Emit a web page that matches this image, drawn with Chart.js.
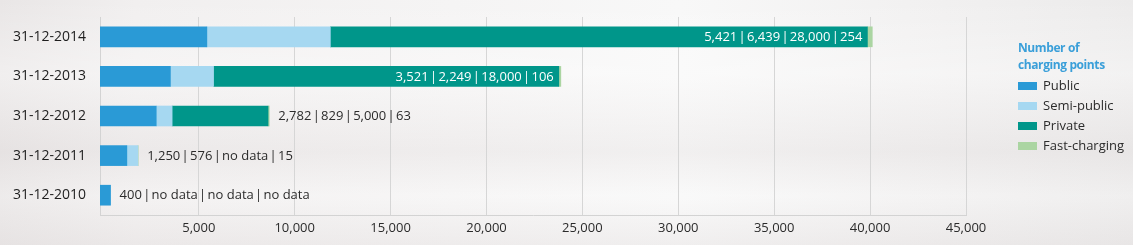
<!DOCTYPE html>
<html>
<head>
<meta charset="utf-8">
<script src="https://cdn.jsdelivr.net/npm/chart.js@4.4.1/dist/chart.umd.min.js"></script>
<style>
  html, body { margin: 0; padding: 0; }
  body {
    width: 1133px; height: 245px; overflow: hidden;
    background:
      linear-gradient(180deg, rgba(255,255,255,0) 0%, rgba(255,255,255,0.35) 30%, rgba(220,214,214,0.25) 62%, rgba(255,255,255,0.2) 80%, rgba(225,220,220,0.35) 100%),
      linear-gradient(90deg, #e9e6e6 0%, #f1efef 12%, #f5f4f4 40%, #f8f8f8 60%, #f2f1f1 80%, #ecebeb 100%);
  }
  #wrap { position: absolute; left: 0; top: 0; width: 1133px; height: 245px; }
</style>
</head>
<body>
<div id="wrap"><canvas id="c" width="1133" height="245"></canvas></div>
<script>
// ---- data ----
const categories = ['31-12-2014', '31-12-2013', '31-12-2012', '31-12-2011', '31-12-2010'];
const seriesNames = ['Public', 'Semi-public', 'Private', 'Fast-charging'];
const publicPoints = [5421, 3521, 2782, 1250, 400];
const semiPublicPoints = [6439, 2249, 829, 576, null];
const privatePoints = [28000, 18000, 5000, null, null];
const fastChargingPoints = [254, 106, 63, 15, null];
const xTickValues = [5000, 10000, 15000, 20000, 25000, 30000, 35000, 40000, 45000];
const legendTitle = ['Number of', 'charging points'];
const noDataText = 'no data';

const seriesColors = ['#2a9ad6', '#a6d8f1', '#00968a', '#abd5a2'];
const FONT = '"Open Sans", "DejaVu Sans", sans-serif';

const allSeries = [publicPoints, semiPublicPoints, privatePoints, fastChargingPoints];
const fmt = v => (v === null || v === undefined) ? noDataText : v.toLocaleString('en-US');
const SEP = '\u200A|\u200A';

const valueLabels = {
  id: 'valueLabels',
  afterDatasetsDraw(chart) {
    const ctx = chart.ctx;
    ctx.save();
    ctx.font = '13px ' + FONT;
    ctx.textBaseline = 'middle';
    categories.forEach((cat, i) => {
      const text = allSeries.map(s => fmt(s[i])).join(SEP);
      const tw = ctx.measureText(text).width;
      let end = chart.scales.x.getPixelForValue(0);
      let y = 0;
      chart.data.datasets.forEach((ds, di) => {
        const el = chart.getDatasetMeta(di).data[i];
        if (el && ds.data[i] !== null) { end = Math.max(end, el.x); }
        if (el) y = el.y;
      });
      const privEl = chart.getDatasetMeta(2).data[i];
      const privW = (privatePoints[i] !== null && privEl) ? (privEl.x - privEl.base) : 0;
      if (privW > tw + 14) {
        ctx.fillStyle = '#ffffff';
        ctx.textAlign = 'right';
        ctx.fillText(text, privEl.x - 5, y + 0.5);
      } else {
        ctx.fillStyle = '#2b2b2b';
        ctx.textAlign = 'left';
        ctx.fillText(text, end + 9, y + 0.5);
      }
    });
    ctx.restore();
  }
};

const sideLegend = {
  id: 'sideLegend',
  afterDraw(chart) {
    const ctx = chart.ctx;
    const x0 = chart.chartArea.right + 52;
    ctx.save();
    ctx.textBaseline = 'middle';
    ctx.textAlign = 'left';
    ctx.fillStyle = '#3a9fd9';
    ctx.font = 'bold 12px "Liberation Sans Narrow", "Open Sans", sans-serif';
    try { ctx.letterSpacing = '-0.4px'; } catch (e) {}
    legendTitle.forEach((line, k) => ctx.fillText(line, x0, 49 + k * 17));
    try { ctx.letterSpacing = '0px'; } catch (e) {}
    ctx.font = '13px ' + FONT;
    chart.data.datasets.forEach((ds, k) => {
      const cy = 86 + k * 20;
      ctx.fillStyle = ds.backgroundColor;
      ctx.fillRect(x0, cy - 4, 19, 8);
      ctx.fillStyle = '#2b2b2b';
      ctx.fillText(ds.label, x0 + 25, cy + 0.5);
    });
    ctx.restore();
  }
};

new Chart(document.getElementById('c'), {
  type: 'bar',
  data: {
    labels: categories,
    datasets: allSeries.map((s, k) => ({
      label: seriesNames[k],
      data: s,
      backgroundColor: seriesColors[k],
      borderWidth: 0,
      barThickness: 20,
      base: k === 0 ? -150 : undefined
    }))
  },
  options: {
    indexAxis: 'y',
    responsive: false,
    animation: false,
    layout: { padding: { left: 0, right: 167, top: 17, bottom: 0 } },
    plugins: { legend: { display: false }, tooltip: { enabled: false } },
    scales: {
      x: {
        stacked: true,
        min: -150,
        max: 45000,
        afterBuildTicks(scale) { scale.ticks = xTickValues.map(v => ({ value: v })); },
        afterFit(scale) { scale.height = 30; },
        grid: { color: '#d6d6d6', drawTicks: false, lineWidth: 1 },
        border: { color: '#d3d3d3' },
        ticks: {
          padding: 5,
          color: '#2b2b2b',
          font: { family: FONT, size: 13 },
          maxRotation: 0,
          callback: v => Number(v).toLocaleString('en-US')
        }
      },
      y: {
        stacked: true,
        afterFit(scale) { scale.width = 100; },
        grid: { display: false, drawTicks: true, tickLength: 14 },
        border: { color: '#d3d3d3' },
        ticks: {
          padding: 0,
          color: '#1e1e1e',
          font: { family: FONT, size: 14 }
        }
      }
    }
  },
  plugins: [valueLabels, sideLegend]
});
</script>
</body>
</html>
